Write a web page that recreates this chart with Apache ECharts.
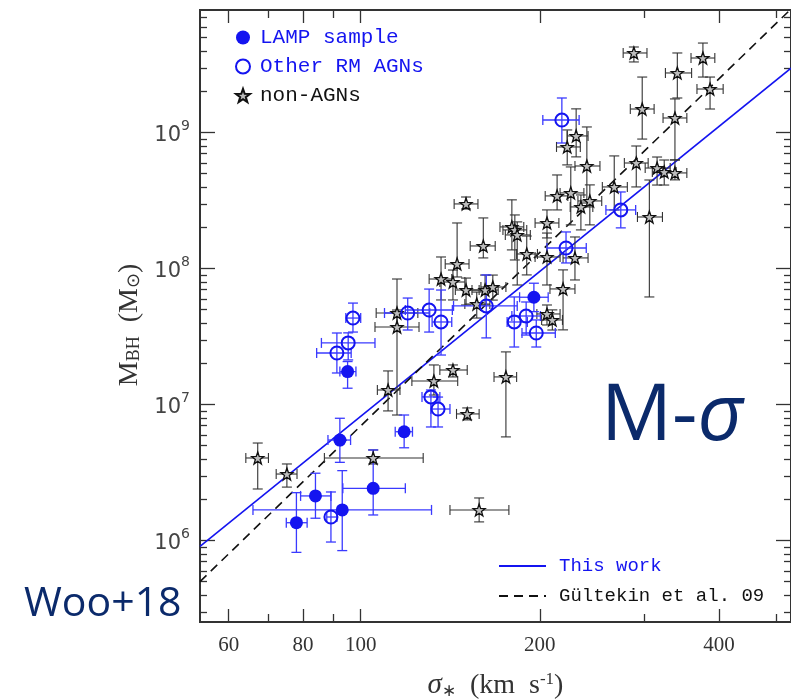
<!DOCTYPE html>
<html>
<head>
<meta charset="utf-8">
<script src="https://cdn.jsdelivr.net/npm/echarts@6/dist/echarts.min.js"></script>
<style>
html, body { margin: 0; padding: 0; background: #fff; }
#msigma { width: 791px; height: 699px; }
</style>
</head>
<body>
<div id="msigma"></div>
<script>
// rows: log10(sigma), err left, err right, log10(M_BH), err down, err up  (errors in dex)
var lampSample = [
    [1.978, 0.013, 0.014, 7.243, 0.122, 0.074],
    [1.965, 0.020, 0.018, 6.740, 0.164, 0.160],
    [2.073, 0.015, 0.014, 6.801, 0.118, 0.123],
    [1.924, 0.025, 0.026, 6.329, 0.164, 0.167],
    [2.021, 0.051, 0.054, 6.385, 0.196, 0.282],
    [1.969, 0.150, 0.150, 6.226, 0.299, 0.289],
    [1.892, 0.017, 0.018, 6.132, 0.218, 0.221],
    [2.291, 0.024, 0.024, 7.790, 0.106, 0.103]
];
var otherRM = [
    [1.987, 0.012, 0.013, 7.637, 0.103, 0.110],
    [1.979, 0.045, 0.045, 7.454, 0.125, 0.074],
    [1.960, 0.034, 0.024, 7.380, 0.147, 0.147],
    [2.079, 0.039, 0.037, 7.674, 0.125, 0.110],
    [2.115, 0.040, 0.039, 7.696, 0.162, 0.154],
    [2.135, 0.015, 0.018, 7.608, 0.243, 0.235],
    [2.211, 0.055, 0.052, 7.726, 0.235, 0.228],
    [2.258, 0.012, 0.022, 7.608, 0.184, 0.184],
    [2.278, 0.024, 0.024, 7.652, 0.140, 0.103],
    [2.295, 0.024, 0.032, 7.527, 0.103, 0.096],
    [2.118, 0.015, 0.015, 7.057, 0.221, 0.051],
    [2.130, 0.012, 0.020, 6.968, 0.132, 0.088],
    [1.950, 0.007, 0.010, 6.174, 0.184, 0.184],
    [2.437, 0.025, 0.025, 8.432, 0.132, 0.132],
    [2.345, 0.032, 0.034, 8.152, 0.110, 0.118],
    [2.338, 0.032, 0.029, 9.093, 0.169, 0.162]
];
var nonAGN = [
    [1.827, 0.020, 0.018, 6.608, 0.228, 0.110],
    [1.876, 0.018, 0.017, 6.490, 0.096, 0.074],
    [2.021, 0.082, 0.084, 6.608, 0.044, 0.059],
    [2.046, 0.018, 0.020, 7.108, 0.154, 0.140],
    [2.061, 0.035, 0.035, 7.674, 0.096, 0.250],
    [2.061, 0.037, 0.037, 7.571, 0.647, 0.125],
    [2.123, 0.037, 0.040, 7.174, 0.103, 0.118],
    [2.155, 0.022, 0.024, 7.255, 0.051, 0.037],
    [2.179, 0.018, 0.020, 6.932, 0.044, 0.044],
    [2.199, 0.049, 0.050, 6.226, 0.088, 0.088],
    [2.244, 0.020, 0.018, 7.204, 0.441, 0.184],
    [2.135, 0.020, 0.018, 7.924, 0.154, 0.162],
    [2.155, 0.022, 0.020, 7.902, 0.132, 0.088],
    [2.162, 0.020, 0.020, 8.035, 0.096, 0.301],
    [2.177, 0.018, 0.022, 7.843, 0.110, 0.088],
    [2.177, 0.020, 0.020, 8.476, 0.037, 0.051],
    [2.195, 0.020, 0.022, 7.740, 0.103, 0.088],
    [2.206, 0.022, 0.020, 8.167, 0.088, 0.206],
    [2.209, 0.022, 0.022, 7.843, 0.110, 0.110],
    [2.222, 0.020, 0.022, 7.865, 0.096, 0.088],
    [2.254, 0.020, 0.020, 8.307, 0.169, 0.199],
    [2.259, 0.020, 0.020, 8.285, 0.221, 0.110],
    [2.263, 0.020, 0.022, 8.248, 0.368, 0.096],
    [2.279, 0.017, 0.018, 8.108, 0.154, 0.132],
    [2.313, 0.020, 0.020, 8.336, 0.110, 0.096],
    [2.313, 0.020, 0.022, 8.086, 0.206, 0.176],
    [2.360, 0.020, 0.022, 8.079, 0.162, 0.154],
    [2.340, 0.022, 0.020, 7.851, 0.301, 0.140],
    [2.313, 0.017, 0.022, 7.667, 0.081, 0.066],
    [2.322, 0.018, 0.017, 7.623, 0.074, 0.074],
    [2.330, 0.020, 0.018, 8.535, 0.103, 0.154],
    [2.353, 0.018, 0.022, 8.557, 0.235, 0.191],
    [2.370, 0.018, 0.020, 8.454, 0.169, 0.088],
    [2.385, 0.020, 0.020, 8.498, 0.176, 0.118],
    [2.380, 0.020, 0.022, 8.755, 0.272, 0.287],
    [2.347, 0.018, 0.022, 8.895, 0.132, 0.125],
    [2.362, 0.015, 0.020, 8.976, 0.154, 0.199],
    [2.426, 0.020, 0.022, 8.601, 0.169, 0.228],
    [2.459, 0.018, 0.022, 9.586, 0.066, 0.044],
    [2.575, 0.020, 0.020, 9.549, 0.140, 0.110],
    [2.532, 0.020, 0.024, 9.439, 0.184, 0.147],
    [2.587, 0.022, 0.022, 9.321, 0.147, 0.088],
    [2.473, 0.020, 0.020, 9.174, 0.221, 0.235],
    [2.528, 0.020, 0.020, 9.108, 0.309, 0.140],
    [2.463, 0.020, 0.020, 8.777, 0.176, 0.125],
    [2.498, 0.020, 0.022, 8.740, 0.125, 0.081],
    [2.510, 0.020, 0.020, 8.711, 0.096, 0.088],
    [2.528, 0.020, 0.020, 8.704, 0.051, 0.096],
    [2.485, 0.020, 0.022, 8.380, 0.588, 0.272]
];

// tick labels (sigma in km/s, exponents of M_BH)
var xTickLabels = [60, 80, 100, 200, 400];
var xMinorTicks = [70, 90, 300, 500];
var yTickLabels = [6, 7, 8, 9];

// fits: log M = a + b log(sigma / 200)
var thisWork = { a: 7.98, b: 3.54 };
var gultekin09 = { a: 8.12, b: 4.24 };

var xMin = 1.73, xMax = 2.723;
var yMin = 5.402, yMax = 9.902;

var blue = '#1414f0';
var navy = '#0b2a6b';
var starPath = 'path://M0,-10L2.35,-3.24L9.51,-3.09L3.8,1.24L5.88,8.09L0,4L-5.88,8.09L-3.8,1.24L-9.51,-3.09L-2.35,-3.24Z';

var yMinor = [];
for (var n = 5; n <= 9; n++) {
    for (var k = 2; k <= 9; k++) {
        var v = n + Math.log10(k);
        if (v > yMin && v < yMax) yMinor.push(v);
    }
}

function fitLine(f) {
    return [xMin, xMax].map(function (x) {
        return [x, f.a + f.b * (x - Math.log10(200))];
    });
}

function xAx(pos, ticks, len, withLabels) {
    return {
        type: 'value', min: xMin, max: xMax, position: pos,
        axisLine: { show: false },
        splitLine: { show: false },
        axisTick: { inside: true, length: len, customValues: ticks, lineStyle: { color: '#333', width: 1.3 } },
        axisLabel: withLabels ? {
            customValues: xTickLabels.map(Math.log10),
            margin: 13,
            fontSize: 21,
            fontFamily: 'Liberation Serif',
            color: '#333',
            formatter: function (v) { return Math.round(Math.pow(10, v)); }
        } : { show: false }
    };
}

function yAx(pos, ticks, len, withLabels) {
    return {
        type: 'value', min: yMin, max: yMax, position: pos,
        axisLine: { show: false },
        splitLine: { show: false },
        axisTick: { inside: true, length: len, customValues: ticks, lineStyle: { color: '#333', width: 1.3 } },
        axisLabel: withLabels ? {
            customValues: yTickLabels,
            margin: 10,
            color: '#333',
            formatter: function (v) { return '{b|10}{s|' + Math.round(v) + '}'; },
            rich: {
                b: { fontSize: 21, fontFamily: 'DejaVu Sans', color: '#444', lineHeight: 26, verticalAlign: 'bottom' },
                s: { fontSize: 14, fontFamily: 'DejaVu Sans', color: '#444', verticalAlign: 'top', lineHeight: 14 }
            }
        } : { show: false }
    };
}

function errorBars(color, width) {
    return function (params, api) {
        var x = api.value(0), y = api.value(3);
        var l = api.coord([x - api.value(1), y]);
        var r = api.coord([x + api.value(2), y]);
        var d = api.coord([x, y - api.value(4)]);
        var u = api.coord([x, y + api.value(5)]);
        var cap = 5;
        var segs = [
            [l[0], l[1], r[0], r[1]],
            [d[0], d[1], u[0], u[1]],
            [l[0], l[1] - cap, l[0], l[1] + cap],
            [r[0], r[1] - cap, r[0], r[1] + cap],
            [d[0] - cap, d[1], d[0] + cap, d[1]],
            [u[0] - cap, u[1], u[0] + cap, u[1]]
        ];
        return {
            type: 'group',
            children: segs.map(function (s) {
                return {
                    type: 'line',
                    shape: { x1: s[0], y1: s[1], x2: s[2], y2: s[3] },
                    style: { stroke: color, lineWidth: width }
                };
            })
        };
    };
}

var chart = echarts.init(document.getElementById('msigma'));
var xMajor = xTickLabels.map(Math.log10);
var xMinor = xMinorTicks.map(Math.log10);

var option = {
    animation: false,
    backgroundColor: '#fff',
    grid: {
        left: 200, top: 10, right: 0, bottom: 77,
        outerBoundsMode: 'none',
        show: true, borderColor: '#333', borderWidth: 2
    },
    xAxis: [
        Object.assign(xAx('bottom', xMajor, 13, true), {
            name: '{i|σ}{sub|∗}  (km  s{sup|-1})',
            nameLocation: 'middle',
            nameGap: 49,
            nameTextStyle: {
                fontSize: 28, fontFamily: 'Liberation Serif', color: '#333',
                rich: {
                    i: { fontSize: 29, fontStyle: 'italic', fontFamily: 'Liberation Serif', color: '#333' },
                    sub: { fontSize: 17, fontFamily: 'Liberation Serif', color: '#333', verticalAlign: 'bottom', lineHeight: 14 },
                    sup: { fontSize: 17, fontFamily: 'Liberation Serif', color: '#333', verticalAlign: 'top', lineHeight: 14 }
                }
            }
        }),
        xAx('bottom', xMinor, 8, false),
        xAx('top', xMajor, 13, false),
        xAx('top', xMinor, 8, false)
    ],
    yAxis: [
        Object.assign(yAx('left', yTickLabels, 15, true), {
            name: 'M{sub|BH}  (M{sub|⊙})',
            nameLocation: 'middle',
            nameRotate: 90,
            nameGap: 36,
            nameTextStyle: {
                fontSize: 28, fontFamily: 'Liberation Serif', color: '#333',
                padding: [0, 18, 0, 0],
                rich: {
                    sub: { fontSize: 18, fontFamily: 'Liberation Serif', color: '#333', verticalAlign: 'bottom', lineHeight: 12 }
                }
            }
        }),
        yAx('left', yMinor, 7, false),
        yAx('right', yTickLabels, 15, false),
        yAx('right', yMinor, 7, false)
    ],
    legend: [
        {
            orient: 'vertical', left: 235, top: 27, padding: 0,
            itemWidth: 14, itemHeight: 14, itemGap: 8,
            textStyle: { fontFamily: 'Liberation Mono', fontSize: 21, lineHeight: 20, padding: [0, 0, 0, 5] },
            data: [
                { name: 'LAMP sample', textStyle: { color: blue } },
                { name: 'Other RM AGNs', textStyle: { color: blue } },
                { name: 'non-AGNs', textStyle: { color: '#111' } }
            ]
        },
        {
            orient: 'vertical', left: 498, top: 556, padding: 0,
            itemWidth: 47, itemHeight: 14, itemGap: 10,
            textStyle: { fontFamily: 'Liberation Mono', fontSize: 19, lineHeight: 20, padding: [0, 0, 0, 8] },
            data: [
                { name: 'This work', itemStyle: { opacity: 0 }, textStyle: { color: blue } },
                { name: 'Gültekin et al. 09', itemStyle: { opacity: 0 }, textStyle: { color: '#111' } }
            ]
        }
    ],
    graphic: [
        {
            type: 'text', left: 601, top: 378,
            style: {
                text: '{m|M-}{s|σ}',
                rich: {
                    m: { fontSize: 79, fontFamily: 'Open Sans', fill: navy },
                    s: { fontSize: 79, fontFamily: 'Open Sans', fontStyle: 'italic', fill: navy }
                }
            }
        },
        {
            type: 'text', left: 24, top: 584,
            style: { text: 'Woo+18', fontSize: 41, fontFamily: 'Open Sans', fill: navy }
        }
    ],
    series: [
        {
            name: 'this-fit', type: 'line', data: fitLine(thisWork), symbol: 'none', clip: true,
            lineStyle: { color: blue, width: 1.6 }, z: 1, silent: true
        },
        {
            name: 'gultekin-fit', type: 'line', data: fitLine(gultekin09), symbol: 'none', clip: true,
            lineStyle: { color: '#111', width: 1.6, type: [9, 6] }, z: 1, silent: true
        },
        {
            name: 'nonAGN-err', type: 'custom', renderItem: errorBars('#333', 1.1),
            encode: { x: 0, y: 3 }, data: nonAGN, z: 2, silent: true
        },
        {
            name: 'otherRM-err', type: 'custom', renderItem: errorBars('#3a3aff', 1.3),
            encode: { x: 0, y: 3 }, data: otherRM, z: 3, silent: true
        },
        {
            name: 'lamp-err', type: 'custom', renderItem: errorBars('#3a3aff', 1.3),
            encode: { x: 0, y: 3 }, data: lampSample, z: 3, silent: true
        },
        {
            name: 'non-AGNs', type: 'scatter', symbol: starPath, symbolSize: 12,
            data: nonAGN.map(function (r) { return [r[0], r[3]]; }),
            itemStyle: { color: '#bdbdbd', borderColor: '#111', borderWidth: 1.3, opacity: 1 }, z: 4
        },
        {
            name: 'Other RM AGNs', type: 'scatter', symbol: 'circle', symbolSize: 13,
            data: otherRM.map(function (r) { return [r[0], r[3]]; }),
            itemStyle: { color: 'rgba(255,255,255,0)', borderColor: blue, borderWidth: 2, opacity: 1 }, z: 5
        },
        {
            name: 'LAMP sample', type: 'scatter', symbol: 'circle', symbolSize: 13,
            data: lampSample.map(function (r) { return [r[0], r[3]]; }),
            itemStyle: { color: blue, opacity: 1 }, z: 5
        },
        {
            name: 'This work', type: 'line', data: [], symbol: 'none', showSymbol: false,
            itemStyle: { color: blue },
            lineStyle: { color: blue, width: 1.6 }
        },
        {
            name: 'Gültekin et al. 09', type: 'line', data: [], symbol: 'none', showSymbol: false,
            itemStyle: { color: '#111' },
            lineStyle: { color: '#111', width: 1.6, type: [9, 6] }
        }
    ]
};
chart.setOption(option);
</script>
</body>
</html>
